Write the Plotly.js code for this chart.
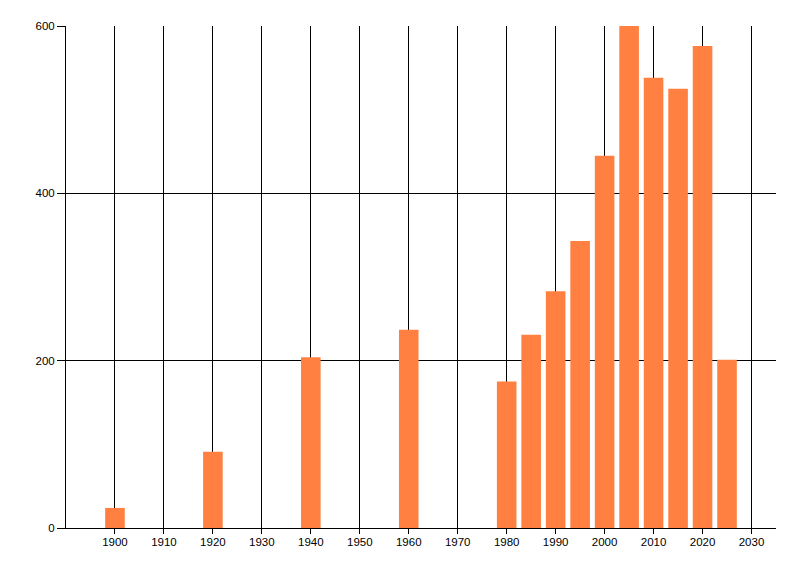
<!DOCTYPE html>
<html>
<head>
<meta charset="utf-8">
<script src="https://cdn.plot.ly/plotly-3.0.1.min.js"></script>
<style>html,body{margin:0;padding:0;background:#fff;}#chart{width:800px;height:576px;}</style>
</head>
<body>
<div id="chart"></div>
<script>
const years = [1900, 1920, 1940, 1960, 1980, 1985, 1990, 1995, 2000, 2005, 2010, 2015, 2020, 2025];
const counts = [24, 91, 204, 237, 175, 231, 283, 343, 445, 600, 538, 525, 576, 201];
const xTicks = [1900, 1910, 1920, 1930, 1940, 1950, 1960, 1970, 1980, 1990, 2000, 2010, 2020, 2030];
const yTicks = [0, 200, 400, 600];

const font = {family: 'Liberation Sans, Arial, sans-serif', size: 11.5, color: '#000'};

Plotly.newPlot('chart', [{
  type: 'bar',
  x: years,
  y: counts,
  width: 4,
  marker: {color: 'rgb(255,128,64)', line: {width: 0}},
  hoverinfo: 'x+y'
}], {
  width: 800, height: 576,
  margin: {l: 66, r: 24, t: 26, b: 48, pad: 0},
  paper_bgcolor: '#fff', plot_bgcolor: '#fff',
  showlegend: false,
  font: font,
  xaxis: {
    range: [1890, 2035],
    tickmode: 'array', tickvals: xTicks, ticktext: xTicks.map(String),
    showgrid: true, gridcolor: '#000', gridwidth: 1,
    showline: true, linecolor: '#000', linewidth: 1,
    ticks: 'outside', ticklen: 5, tickcolor: '#000', tickwidth: 1,
    ticklabelstandoff: -2,
    zeroline: false, tickfont: font
  },
  yaxis: {
    range: [0, 600],
    tickmode: 'array', tickvals: yTicks, ticktext: yTicks.map(String),
    showgrid: true, gridcolor: '#000', gridwidth: 1,
    showline: true, linecolor: '#000', linewidth: 1,
    ticks: 'outside', ticklen: 8, tickcolor: '#000', tickwidth: 1,
    zeroline: false, tickfont: font
  }
}, {staticPlot: true, displayModeBar: false});
</script>
</body>
</html>
